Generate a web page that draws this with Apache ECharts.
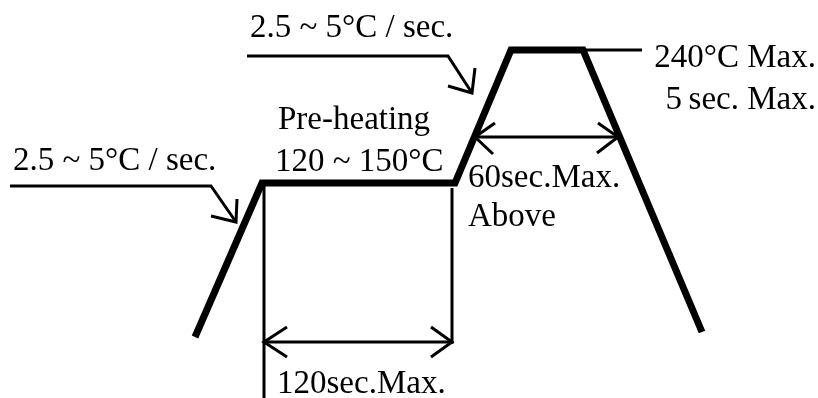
<!DOCTYPE html>
<html>
<head>
<meta charset="utf-8">
<script src="https://cdn.jsdelivr.net/npm/echarts@6/dist/echarts.min.js"></script>
<style>
  html, body { margin: 0; padding: 0; background: #fff; }
  #main { width: 818px; height: 398px; }
</style>
</head>
<body>
<div id="main"></div>
<script>
// reflow profile, drawn on a plain x/y plane (y grows downward)
var profile = [[195, 337], [262, 183], [455, 183], [511, 50], [583, 50], [702, 332]];

// pointers for the ramp rates
var topPointer = [[247, 56], [448, 56], [472, 93]];
var topPointerHead = [[448, 86], [472, 93], [475, 68]];
var leftPointer = [[10, 186], [211, 186], [236, 222]];
var leftPointerHead = [[211, 216], [236, 222], [237, 199]];
var peakLeader = [[583, 50], [642, 50]];

// 120 sec dimension
var dimLeft = [[264, 186], [264, 398]];
var dimRight = [[452, 188], [452, 344]];
var dim120 = [[264, 342], [452, 342]];
var dim120HeadL = [[287, 327], [264, 342], [287, 357]];
var dim120HeadR = [[431, 327], [452, 342], [431, 357]];

// 60 sec dimension
var dim60 = [[475, 137], [618, 137]];
var dim60HeadL = [[495, 123], [475, 137], [493, 154]];
var dim60HeadR = [[598, 123], [618, 137], [597, 153]];

var leftTexts = [
  [250, 28, '2.5 ~ 5°C / sec.'],
  [13, 161, '2.5 ~ 5°C / sec.'],
  [278, 120, 'Pre-heating'],
  [275, 162, '120 ~ 150°C'],
  [468, 178, '60sec.Max.'],
  [468, 217, 'Above'],
  [277, 384, '120sec.Max.']
];
var rightTexts = [
  [816, 58, '240°C Max.'],
  [816, 100, '5\u2009sec. Max.']
];

var chart = echarts.init(document.getElementById('main'), null, { renderer: 'canvas' });

function thin(data, w) {
  return {
    type: 'line',
    data: data,
    symbol: 'none',
    silent: true,
    lineStyle: { color: '#000', width: w || 3, cap: 'butt', join: 'miter' }
  };
}

function texts(data, align) {
  return {
    type: 'scatter',
    data: data,
    symbolSize: 0,
    silent: true,
    itemStyle: { opacity: 1 },
    label: {
      show: true,
      position: 'inside',
      align: align,
      verticalAlign: 'middle',
      formatter: function (p) { return p.data[2]; },
      fontFamily: 'Liberation Serif',
      fontSize: 33,
      color: '#000',
      opacity: 1
    }
  };
}

var option = {
  animation: false,
  backgroundColor: '#fff',
  grid: { left: 0, right: 0, top: 0, bottom: 0 },
  xAxis: { type: 'value', min: 0, max: 818, show: false },
  yAxis: { type: 'value', min: 0, max: 398, inverse: true, show: false },
  series: [
    thin(profile, 7),
    thin(topPointer),
    thin(topPointerHead),
    thin(leftPointer),
    thin(leftPointerHead),
    thin(peakLeader),
    thin(dimLeft),
    thin(dimRight),
    thin(dim120),
    thin(dim120HeadL),
    thin(dim120HeadR),
    thin(dim60),
    thin(dim60HeadL),
    thin(dim60HeadR),
    texts(leftTexts, 'left'),
    texts(rightTexts, 'right')
  ]
};

chart.setOption(option);
</script>
</body>
</html>
